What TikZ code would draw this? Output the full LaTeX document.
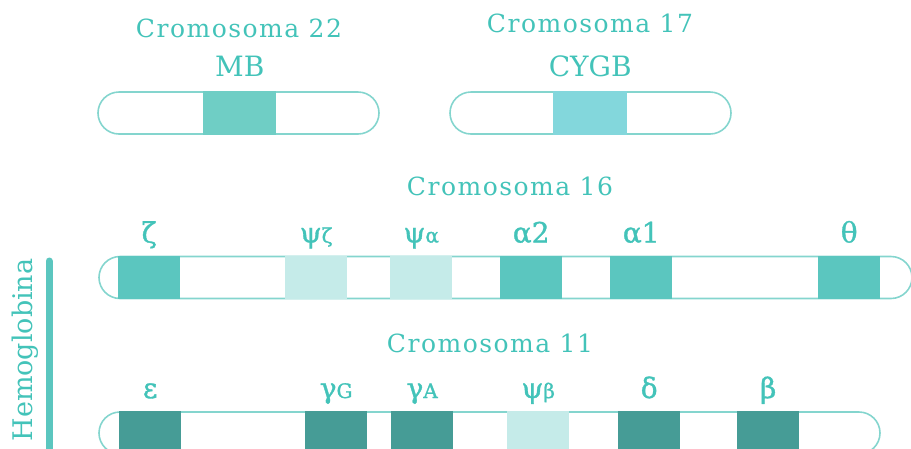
\documentclass[tikz,border=0pt]{standalone}
\usepackage{fontspec}
\setmainfont{DejaVu Serif}
\newfontfamily\titlefont{DejaVu Serif}[LetterSpace=6]
\newfontfamily\greekfont{DejaVu Serif}[FakeBold=1.2]
\usepackage{tikz}
\usetikzlibrary{positioning}
\usepackage{xcolor}

\definecolor{tealtext}{HTML}{43C3B9}
\definecolor{outline}{HTML}{84D5CE}
\definecolor{alphafill}{HTML}{5BC6BF}
\definecolor{betafill}{HTML}{469C96}
\definecolor{pseudofill}{HTML}{C5EBE9}
\definecolor{mbfill}{HTML}{6FCEC5}
\definecolor{cygbfill}{HTML}{83D7DC}

\newcommand{\gsub}[1]{{\fontsize{20}{22}\selectfont #1}}

\begin{document}
\begin{tikzpicture}[
        x=1pt, y=-1pt,
        title/.style={text=tealtext, font=\titlefont\fontsize{25}{30}\selectfont, anchor=base, inner sep=0pt},
        genename/.style={text=tealtext, font=\fontsize{28}{32}\selectfont, anchor=base, inner sep=0pt},
        glabel/.style={text=tealtext, font=\greekfont\fontsize{28}{32}\selectfont, anchor=base, inner sep=0pt},
        chrom/.style={rectangle, draw=outline, line width=1.6pt, rounded corners=21pt, minimum height=42pt, inner sep=0pt},
        band/.style={rectangle, inner sep=0pt, minimum width=62pt, minimum height=43.6pt, anchor=west}
    ]
    \path[use as bounding box, clip] (0,0) rectangle (911,448);

    % Chromosome 22
    \node[chrom, minimum width=281pt] (c22) at (238.5,113) {};
    \node[band, fill=mbfill, minimum width=73pt] (mb) at (203,113) {};
    \node[genename, above=15pt of mb, anchor=base] (mbname) {MB};
    \node[title] (t22) at (239,37) {Cromosoma 22};

    % Chromosome 17
    \node[chrom, minimum width=281pt] (c17) at (590.5,113) {};
    \node[band, fill=cygbfill, minimum width=74pt] (cygb) at (553,113) {};
    \node[genename, above=15pt of cygb, anchor=base] (cygbname) {CYGB};
    \node[title] (t17) at (590,32) {Cromosoma 17};

    % Chromosome 16
    \node[title] (t16) at (510,195) {Cromosoma 16};
    \node[chrom, minimum width=813pt] (c16) at (505.5,277.5) {};
    \node[band, fill=alphafill] (zeta) at (118,277.5) {};
    \node[band, fill=pseudofill] (psizeta) at (285,277.5) {};
    \node[band, fill=pseudofill] (psialpha) at (390,277.5) {};
    \node[band, fill=alphafill] (alphatwo) at (500,277.5) {};
    \node[band, fill=alphafill] (alphaone) at (610,277.5) {};
    \node[band, fill=alphafill] (theta) at (818,277.5) {};

    \node[glabel, above=13pt of zeta, anchor=base] (lzeta) {ζ};
    \node[glabel, above=13pt of psizeta, anchor=base] (lpsizeta) {ψ\gsub{ζ}};
    \node[glabel, above=13pt of psialpha, anchor=base] (lpsialpha) {ψ\gsub{α}};
    \node[glabel, above=13pt of alphatwo, anchor=base] (lalphatwo) {α2};
    \node[glabel, above=13pt of alphaone, anchor=base] (lalphaone) {α1};
    \node[glabel, above=13pt of theta, anchor=base] (ltheta) {θ};

    % Chromosome 11
    \node[title] (t11) at (490,352) {Cromosoma 11};
    \node[chrom, minimum width=781pt] (c11) at (489.5,433) {};
    \node[band, fill=betafill] (epsilon) at (119,433) {};
    \node[band, fill=betafill] (gammag) at (305,433) {};
    \node[band, fill=betafill] (gammaa) at (391,433) {};
    \node[band, fill=pseudofill] (psibeta) at (507,433) {};
    \node[band, fill=betafill] (delta) at (618,433) {};
    \node[band, fill=betafill] (beta) at (737,433) {};

    \node[glabel, above=13pt of epsilon, anchor=base] (lepsilon) {ε};
    \node[glabel, above=13pt of gammag, anchor=base] (lgammag) {γ\gsub{G}};
    \node[glabel, above=13pt of gammaa, anchor=base] (lgammaa) {γ\gsub{A}};
    \node[glabel, above=13pt of psibeta, anchor=base] (lpsibeta) {ψ\gsub{β}};
    \node[glabel, above=13pt of delta, anchor=base] (ldelta) {δ};
    \node[glabel, above=13pt of beta, anchor=base] (lbeta) {β};

    % Hemoglobina
    \node[text=tealtext, font=\fontsize{27}{30}\selectfont, rotate=90, anchor=base, inner sep=0pt] (hb) at (32,350) {Hemoglobina};
    \coordinate (bartop) at (49,261);
    \coordinate (barbot) at (49,470);
    \draw[alphafill, line width=7pt, line cap=round] (bartop) -- (barbot);

\end{tikzpicture}
\end{document}
